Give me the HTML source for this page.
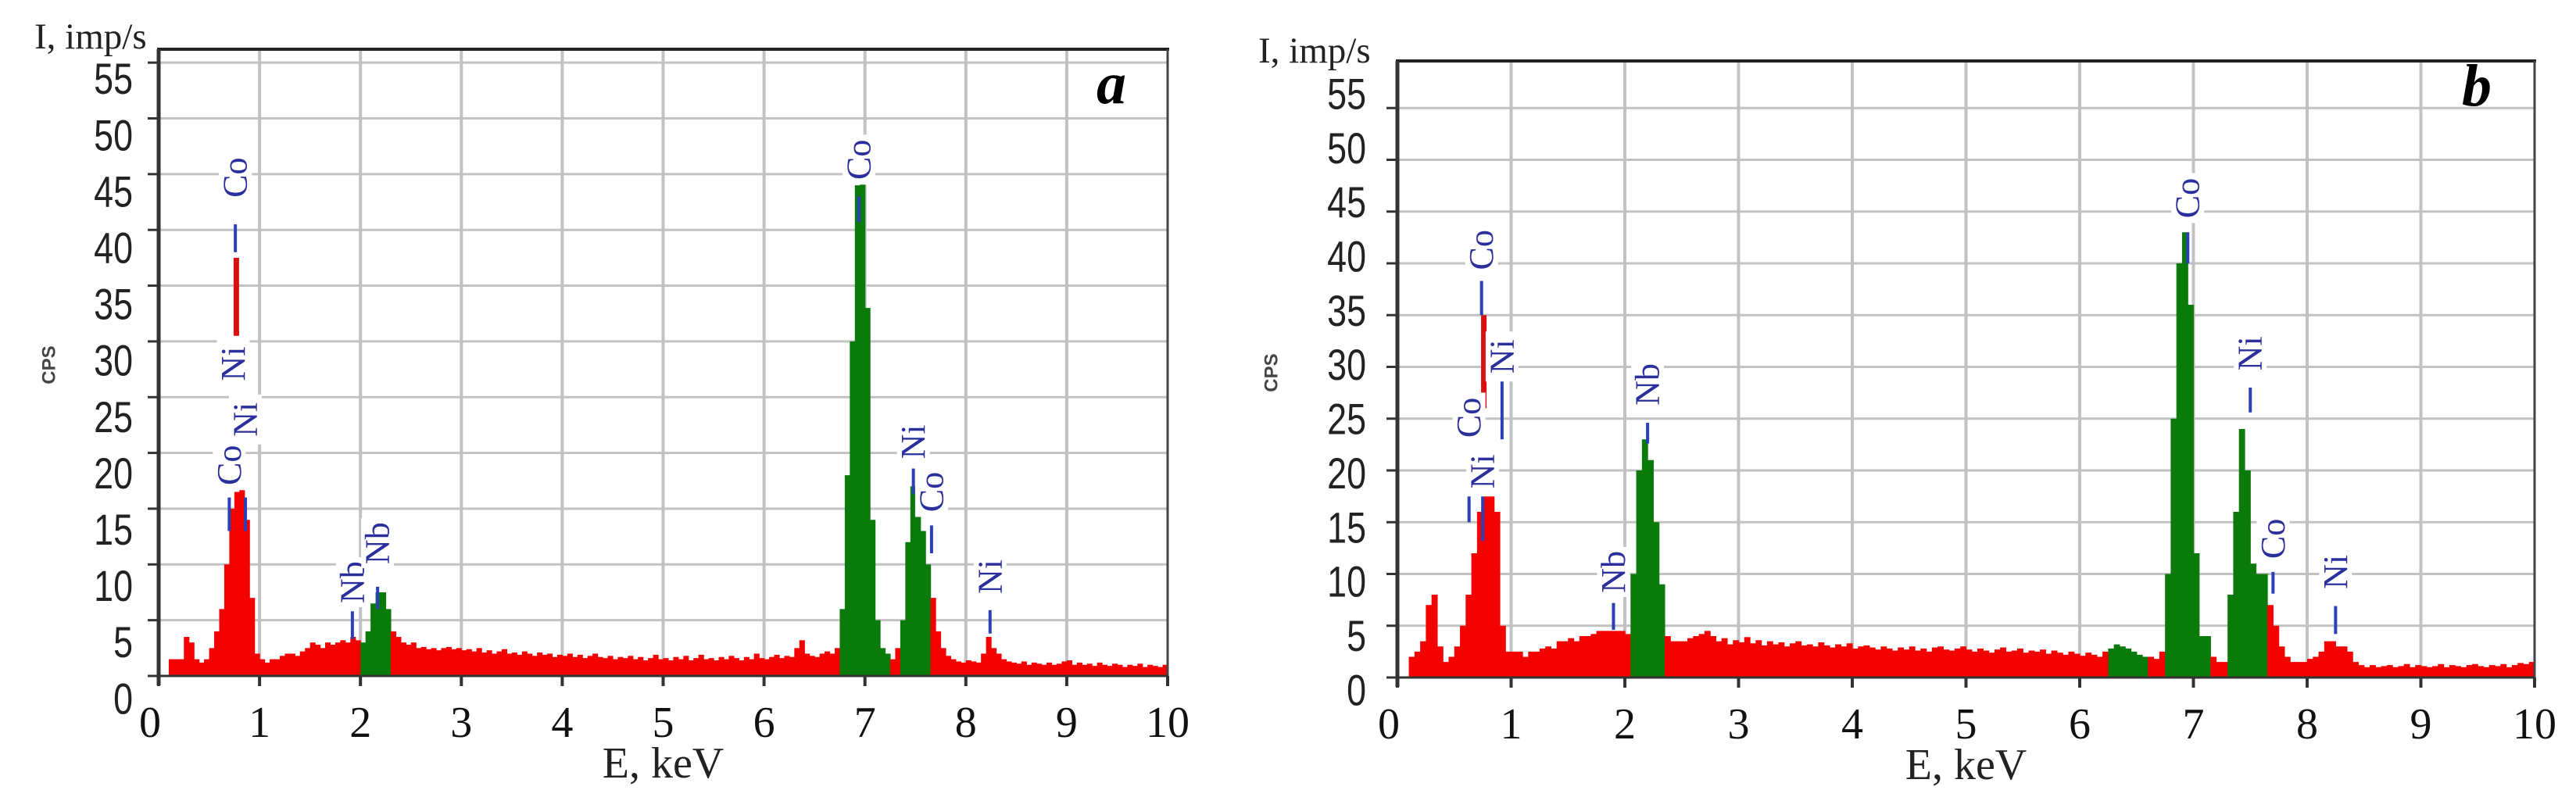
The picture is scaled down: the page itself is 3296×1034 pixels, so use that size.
<!DOCTYPE html>
<html><head><meta charset="utf-8"><style>
html,body{margin:0;padding:0;background:#fff;}
svg{display:block;}
</style></head><body>
<svg id="chart" width="3296" height="1034" viewBox="0 0 3296 1034" xmlns="http://www.w3.org/2000/svg">
<rect x="0" y="0" width="3296" height="1034" fill="#fff"/>
</svg>
<script>
// ---- data ----
const binStart = 0.10;
const binWidth = 0.05;
const xTicks = [0,1,2,3,4,5,6,7,8,9,10];
const yTicks = [0,5,10,15,20,25,30,35,40,45,50,55];
const countsA = [
1.5,1.5,1.5,3.5,3.0,1.5,1.2,1.5,2.5,4.0,
6,10,15,16.5,17,14,7,2,1.5,1.2,
1.5,1.5,1.8,2.0,2.0,1.8,2.2,2.5,3.0,2.8,
2.5,3.0,2.8,3.0,3.2,3.0,3.5,3.2,3.0,4.0,
6.5,7.5,7.5,6.0,4.0,3.5,3.0,2.8,3.0,2.5,
2.6,2.4,2.5,2.3,2.5,2.6,2.4,2.5,2.3,2.4,
2.2,2.5,2.1,2.3,2.0,2.2,2.4,2.0,2.1,1.9,
2.2,2.0,1.8,2.1,1.9,2.0,1.7,1.9,1.8,2.0,
1.7,1.9,1.6,1.8,2.0,1.7,1.6,1.8,1.5,1.7,
1.6,1.8,1.5,1.7,1.4,1.6,1.9,1.5,1.6,1.4,
1.7,1.5,1.8,1.4,1.6,1.9,1.5,1.6,1.4,1.7,
1.5,1.8,1.6,1.4,1.7,1.5,2.0,1.6,1.5,1.7,
1.9,1.6,1.8,1.7,2.5,3.2,2.0,1.8,1.7,2.0,
2.2,2.0,2.5,6,18,30,44,46,33,14,
5,2.5,2,1.5,2.5,5,12,17,15,13,
10,7,4,2.5,1.8,1.5,1.3,1.2,1.4,1.3,
1.2,2,3.5,2.5,2,1.5,1.3,1.2,1.1,1.3,
1.0,1.2,1.1,1.0,1.2,1.0,1.1,1.3,1.4,1.0,
1.2,1.0,1.1,0.9,1.2,1.0,0.9,1.1,1.0,0.8,
1.0,0.9,1.1,0.8,1.0,0.9,0.8,1.0];
const countsB = [
2,2.5,3.5,7,8,3,1.5,2,3,5,
8,12,16,18,18,16,5,2.5,2.5,2.5,
2,2.5,2.5,2.8,3,2.8,3.5,3.5,3.8,3.5,
4,4,4.2,4.5,4.5,4.5,4.5,4.5,4.2,10,
20,23,21,15,9,4,3.5,3.5,3.5,3.8,
4,4.2,4.5,4,3.5,3.8,3.2,3.6,3.4,3.9,
3.3,3.6,3.1,3.5,3.2,3.4,3.0,3.3,3.5,3.1,
3.2,3.0,3.4,3.1,2.9,3.2,3.0,3.3,2.8,3.0,
3.1,2.9,2.7,3.0,2.8,2.6,2.9,2.7,3.0,2.6,
2.8,2.5,2.9,3.0,2.7,2.6,2.8,3.0,2.7,2.5,
2.8,2.6,2.4,2.7,2.9,2.5,2.6,2.8,2.4,2.6,
2.5,2.7,2.3,2.6,2.4,2.2,2.5,2.3,2.1,2.4,
2.2,2.0,2.5,2.8,3.2,3.0,2.8,2.5,2.2,2.0,
2.0,1.8,2.5,10,25,40,43,36,12,4,
4,2,1.5,1.5,8,16,24,20,11,10,
10,7,5,3,2,1.5,1.5,1.5,1.8,2,
2.5,3.5,3.5,3,3,2.5,1.5,1.2,1.0,1.2,
1.0,1.1,1.2,1.0,1.1,1.3,1.0,1.2,1.1,1.0,
1.1,1.3,1.0,1.2,1.1,1.0,1.2,1.3,1.1,1.0,
1.2,1.1,1.3,1.0,1.2,1.4,1.3,1.5];
const greenA = [[2.0,2.3],[6.75,7.25],[7.35,7.65]];
const greenB = [[2.05,2.35],[6.25,6.6],[6.75,7.15],[7.3,7.65]];
// peak labels: element, energy, label center (cps), marker bottom/top
const peakNamesA = ["Co","Ni","Ni","Co","Nb","Nb","Co","Ni","Co","Ni"];
const peakEA     = [0.76,0.74,0.86,0.70,1.92,2.17,6.94,7.48,7.66,8.24];
const peakLabA   = [44.7,28,23,18.9,8.4,11.9,46.3,21,16.5,8.9];
const peakMkA    = [[38,40.5],[22.4,25.2],[13,16],[13,16],[3.3,5.8],[6,8],[40.7,43],[16.3,18.6],[11,13.5],[3.8,5.9]];
const redLineA   = [[30.5,37.5]];
const redLineEA  = [0.77];
const peakNamesB = ["Co","Ni","Co","Ni","Nb","Nb","Co","Ni","Co","Ni"];
const peakEB     = [0.74,0.92,0.63,0.75,1.9,2.2,6.95,7.5,7.7,8.25];
const peakLabB   = [41.3,31,25.1,19.9,10.2,28.3,46.3,31.3,13.4,10.2];
const peakMkB    = [[35,38.3],[23,28.8],[15,17.6],[13.2,17.6],[4.6,7.2],[22.6,24.6],[40,43],[25.6,28],[8.1,10.2],[4.2,6.9]];
const redLineB   = [[26,35]];
const redLineEB  = [0.76];

const NS = "http://www.w3.org/2000/svg";
const svg = document.getElementById('chart');
function mk(tag, attrs, parent){
  const e = document.createElementNS(NS, tag);
  for (const k in attrs) e.setAttribute(k, attrs[k]);
  (parent||svg).appendChild(e);
  return e;
}

function panel(cfg){
  const g = mk('g', {});
  
  
  const X = e => cfg.x0 + (e/10)*(cfg.x1-cfg.x0);
  const Y = v => cfg.y0 - v*cfg.unit;
  const LY = v => cfg.lab0 - v*cfg.labUnit;
  const yTop = cfg.top;
  yTicks.forEach(t => {
    if (t===0) return;
    const l = mk('line', {x1:cfg.x0, x2:cfg.x1, y1:Y(t), y2:Y(t), stroke:'#c2c2c2', 'stroke-width':3}, g);
    
    
  });
  xTicks.forEach(t => {
    if (t===0 || t===10) return;
    const l = mk('line', {x1:X(t), x2:X(t), y1:yTop, y2:cfg.y0, stroke:'#c2c2c2', 'stroke-width':4}, g);
    
    
  });
  const sg = mk('g', {}, g);
  
  
  cfg.counts.forEach((v,i) => {
    const e = binStart + i*binWidth;
    const mid = e + binWidth/2;
    const isG = cfg.green.some(r => mid >= r[0] && mid < r[1]);
    const r = mk('rect', {x:X(e), y:Y(v), width:X(e+binWidth)-X(e)+0.6, height:cfg.y0-Y(v), fill:isG?'#0a7a0a':'#f50000'}, sg);
    
    
  });
  cfg.redLines.forEach((rl,i) => {
    const l = mk('line', {x1:X(cfg.redE[i]), x2:X(cfg.redE[i]), y1:Y(rl[0]), y2:Y(rl[1]), stroke:'#d81010', 'stroke-width':7}, g);
    
    
  });
  cfg.names.forEach((n,i) => {
    const x = X(cfg.pe[i]);
    const m = mk('line', {x1:x, x2:x, y1:Y(cfg.mk[i][0]), y2:Y(cfg.mk[i][1]), stroke:'#2b3fb8', 'stroke-width':4}, g);
    
    
    const yc = Y(cfg.lab[i]);
    const bg = mk('rect', {x:x-21, y:yc-32, width:42, height:64, fill:'#fff'}, g);
    
    
    const t = mk('text', {x:x, y:yc, transform:`rotate(-90 ${x} ${yc})`, 'text-anchor':'middle', 'dominant-baseline':'central', 'font-family':'Liberation Serif, serif', 'font-size':44, fill:'#2b2f9c'}, g);
    t.textContent = n;
    
    
  });
  const f1 = mk('line', {x1:cfg.x0-2, x2:cfg.x1+2, y1:yTop, y2:yTop, stroke:'#222', 'stroke-width':4}, g);
  
  
  const f2 = mk('line', {x1:cfg.x1, x2:cfg.x1, y1:yTop, y2:cfg.y0, stroke:'#444', 'stroke-width':3}, g);
  
  
  const ya = mk('line', {x1:cfg.x0, x2:cfg.x0, y1:yTop, y2:cfg.y0+12, stroke:'#333', 'stroke-width':5}, g);
  
  
  const xa = mk('line', {x1:cfg.x0, x2:cfg.x1, y1:cfg.y0, y2:cfg.y0, stroke:'#333', 'stroke-width':3}, g);
  
  
  yTicks.forEach(t => {
    const tk = mk('line', {x1:cfg.x0-14, x2:cfg.x0, y1:Y(t), y2:Y(t), stroke:'#333', 'stroke-width':3}, g);
    
    
    const lx = cfg.x0-cfg.labGap, ly = LY(t);
    const lb = mk('text', {x:0, y:0, transform:`translate(${lx} ${ly}) scale(0.8 1)`, 'text-anchor':'end', 'dominant-baseline':'central', 'font-family':'Liberation Sans, sans-serif', 'font-size':56, fill:'#222'}, g);
    lb.textContent = t;
    
    
  });
  xTicks.forEach(t => {
    const tk = mk('line', {x1:X(t), x2:X(t), y1:cfg.y0, y2:cfg.y0+13, stroke:'#333', 'stroke-width':4}, g);
    
    
    const lb = mk('text', {x:X(t) - (t===0?11:0), y:cfg.y0+60, 'text-anchor':'middle', 'dominant-baseline':'central', 'font-family':'Liberation Serif, serif', 'font-size':56, fill:'#111'}, g);
    lb.textContent = t;
    
    
  });
  const xt = mk('text', {x:(cfg.x0+cfg.x1)/2, y:cfg.y0+112, 'text-anchor':'middle', 'dominant-baseline':'central', 'font-family':'Liberation Serif, serif', 'font-size':56, fill:'#222'}, g);
  xt.textContent = 'E, keV';
  
  
  const yt = mk('text', {x:cfg.ytx, y:cfg.yty, 'text-anchor':'start', 'font-family':'Liberation Serif, serif', 'font-size':47, fill:'#222'}, g);
  yt.textContent = 'I, imp/s';
  
  
  const cps = mk('text', {x:cfg.cpsx, y:cfg.cpsy, transform:`rotate(-90 ${cfg.cpsx} ${cfg.cpsy})`, 'text-anchor':'middle', 'dominant-baseline':'central', 'font-family':'Liberation Sans, sans-serif', 'font-weight':'bold', 'font-size':24, fill:'#444'}, g);
  cps.textContent = 'CPS';
  
  
  const pl = mk('text', {x:cfg.lx, y:cfg.ly, 'text-anchor':'middle', 'dominant-baseline':'central', 'font-family':'Liberation Serif, serif', 'font-weight':'bold', 'font-style':'italic', 'font-size':76, fill:'#000'}, g);
  pl.textContent = cfg.letter;
  
  
}

panel({name:'panel-a', x0:203, x1:1494, y0:865, unit:14.27, top:63, lab0:894, labUnit:14.42, labGap:33,
  counts:countsA, green:greenA,
  names:peakNamesA, pe:peakEA, lab:peakLabA, mk:peakMkA, redLines:redLineA, redE:redLineEA,
  ytx:44, yty:62, cpsx:63, cpsy:467, lx:1422, ly:107, letter:'a'});
panel({name:'panel-b', x0:1788, x1:3243, y0:867, unit:13.25, top:78, lab0:883, labUnit:13.87, labGap:40,
  counts:countsB, green:greenB,
  names:peakNamesB, pe:peakEB, lab:peakLabB, mk:peakMkB, redLines:redLineB, redE:redLineEB,
  ytx:1610, yty:80, cpsx:1627, cpsy:477, lx:3169, ly:110, letter:'b'});
</script>
</body></html>
